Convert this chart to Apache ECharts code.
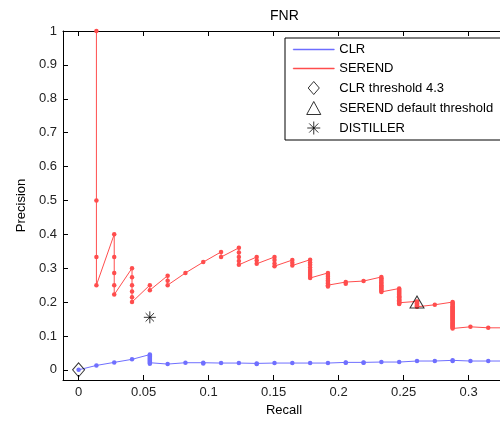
<!DOCTYPE html>
<html>
<head>
<meta charset="utf-8">
<title>FNR</title>
<script src="https://cdn.jsdelivr.net/npm/echarts@6/dist/echarts.min.js"></script>
<style>
  html, body { margin: 0; padding: 0; background: #fff; }
  #chart { width: 500px; height: 421px; }
</style>
</head>
<body>
<div id="chart"></div>
<script>
// recall value of each step (one more true positive per step)
var recallSteps = [0.0137, 0.0274, 0.0411, 0.0548, 0.0685, 0.0822, 0.0959, 0.1096,
    0.1233, 0.1370, 0.1507, 0.1644, 0.1781, 0.1918, 0.2055, 0.2192, 0.2329, 0.2466,
    0.2603, 0.2740, 0.2877, 0.3014, 0.3151, 0.3288];

// SEREND precision values at each recall step (top to bottom)
var serendPrecision = [
    [1.0, 0.5, 0.333, 0.25],
    [0.4, 0.333, 0.286, 0.25, 0.222],
    [0.3, 0.273, 0.25, 0.231, 0.214, 0.2],
    [0.25, 0.235],
    [0.278, 0.263, 0.25],
    [0.286],
    [0.318],
    [0.348, 0.333],
    [0.36, 0.346, 0.333, 0.321, 0.31],
    [0.333, 0.323, 0.313],
    [0.333, 0.324, 0.314, 0.306],
    [0.324, 0.316, 0.308],
    [0.325, 0.317, 0.31, 0.302, 0.295, 0.289, 0.283, 0.277, 0.271],
    [0.286, 0.28, 0.275, 0.269, 0.264, 0.259, 0.255, 0.25, 0.246],
    [0.259, 0.254],
    [0.262],
    [0.274, 0.27, 0.266, 0.262, 0.258, 0.254, 0.25, 0.246, 0.243, 0.239, 0.236, 0.233, 0.23],
    [0.24, 0.237, 0.234, 0.231, 0.228, 0.225, 0.222, 0.219, 0.217, 0.214, 0.212, 0.209,
     0.207, 0.205, 0.202, 0.2, 0.198, 0.196, 0.194],
    [0.202, 0.2, 0.198, 0.196, 0.194, 0.192, 0.19, 0.188, 0.186],
    [0.192],
    [0.2, 0.197, 0.194, 0.191, 0.188, 0.185, 0.182, 0.179, 0.176, 0.173, 0.17, 0.167,
     0.164, 0.161, 0.158, 0.155, 0.152, 0.149, 0.146, 0.143, 0.14, 0.137, 0.134, 0.131,
     0.128, 0.125, 0.122],
    [0.127],
    [0.124],
    [0.124]
];

// CLR starts at recall 0, then follows the same recall steps
var clrStart = [0, 0];
var clrPrecision = [
    [0.013],
    [0.022],
    [0.031],
    [0.045, 0.042, 0.039, 0.036, 0.033, 0.03, 0.027, 0.024, 0.021, 0.018],
    [0.017],
    [0.021],
    [0.021, 0.019],
    [0.02],
    [0.02],
    [0.019, 0.017],
    [0.02],
    [0.02],
    [0.02],
    [0.02],
    [0.022, 0.021],
    [0.022, 0.021],
    [0.023],
    [0.023],
    [0.026],
    [0.026],
    [0.028, 0.026],
    [0.026],
    [0.026],
    [0.026]
];

// single markers
var clrThreshold = [0, 0];
var serendDefault = [0.2603, 0.2];
var distiller = [0.0548, 0.155];

var xTicks = [0, 0.05, 0.1, 0.15, 0.2, 0.25, 0.3];
var yTicks = [0, 0.1, 0.2, 0.3, 0.4, 0.5, 0.6, 0.7, 0.8, 0.9, 1];

function buildPoints(steps, precisions) {
    var pts = [];
    steps.forEach(function (x, i) {
        (precisions[i] || []).forEach(function (p) {
            pts.push([x, p]);
        });
    });
    return pts;
}

var clrPoints = [clrStart].concat(buildPoints(recallSteps, clrPrecision));
var serendPoints = buildPoints(recallSteps, serendPrecision);

var font = 'Liberation Sans, Arial, sans-serif';
var blue = '#6f6fff';
var red = '#ff4d4d';
var asterisk = 'path://M6,0L6,12M0,6L12,6M1.8,1.8L10.2,10.2M10.2,1.8L1.8,10.2';
var lineIcon = 'path://M0,0L40,0L40,1L0,1Z';
var fmt = function (v) { return String(+v.toFixed(2)); };

var myChart = echarts.init(document.getElementById('chart'));

var option = {
    animation: false,
    backgroundColor: '#fff',
    textStyle: { fontFamily: font },
    title: {
        text: 'FNR',
        left: 265,
        top: 4,
        textStyle: { fontSize: 14, fontWeight: 'normal', color: '#000', fontFamily: font }
    },
    grid: {
        left: 63,
        right: -5,
        top: 31,
        bottom: 41,
        containLabel: false,
        outerBoundsMode: 'none'
    },
    legend: {
        orient: 'vertical',
        left: 285,
        top: 38,
        padding: [5, 30, 5, 8],
        itemWidth: 41,
        itemHeight: 13,
        itemGap: 6,
        selectedMode: false,
        backgroundColor: '#fff',
        borderColor: '#000',
        borderWidth: 1,
        borderRadius: 0,
        textStyle: { fontSize: 13, color: '#000', fontFamily: font, lineHeight: 13 },
        data: [
            { name: 'CLR', icon: lineIcon,
              itemStyle: { color: blue, borderColor: blue, borderWidth: 0.5, opacity: 1 } },
            { name: 'SEREND', icon: lineIcon,
              itemStyle: { color: red, borderColor: red, borderWidth: 0.5, opacity: 1 } },
            { name: 'CLR threshold 4.3', icon: 'path://M6,0L12,7L6,14L0,7Z',
              itemStyle: { color: '#fff', borderColor: '#000', borderWidth: 1 } },
            { name: 'SEREND default threshold', icon: 'path://M6.5,0L13,12L0,12Z',
              itemStyle: { color: '#fff', borderColor: '#000', borderWidth: 1 } },
            { name: 'DISTILLER', icon: asterisk,
              itemStyle: { color: 'rgba(0,0,0,0)', borderColor: '#000', borderWidth: 1 } }
        ]
    },
    xAxis: [
        {
            type: 'value',
            position: 'bottom',
            min: -0.012,
            max: 0.328,
            name: 'Recall',
            nameLocation: 'middle',
            nameGap: 23,
            nameTextStyle: { fontSize: 13, color: '#000', fontFamily: font },
            axisLine: { onZero: false, lineStyle: { color: '#000', width: 1 } },
            axisTick: { inside: true, length: 5, customValues: xTicks, lineStyle: { color: '#000' } },
            axisLabel: { customValues: xTicks, formatter: fmt, fontSize: 13, color: '#222', margin: 6, fontFamily: font },
            splitLine: { show: false }
        },
        {
            type: 'value',
            position: 'top',
            min: -0.012,
            max: 0.328,
            axisLine: { onZero: false, lineStyle: { color: '#000', width: 1 } },
            axisTick: { inside: true, length: 5, customValues: xTicks, lineStyle: { color: '#000' } },
            axisLabel: { show: false },
            splitLine: { show: false }
        }
    ],
    yAxis: {
        type: 'value',
        min: -0.03,
        max: 1,
        name: 'Precision',
        nameLocation: 'middle',
        nameGap: 30,
        nameRotate: 90,
        nameTextStyle: { fontSize: 13, color: '#000', fontFamily: font },
        axisLine: { show: true, onZero: false, lineStyle: { color: '#000', width: 1 } },
        axisTick: { show: true, inside: true, length: 5, customValues: yTicks, lineStyle: { color: '#000' } },
        axisLabel: { customValues: yTicks, formatter: fmt, fontSize: 13, color: '#222', margin: 6, fontFamily: font },
        splitLine: { show: false }
    },
    series: [
        {
            name: 'CLR',
            type: 'line',
            data: clrPoints,
            symbol: 'circle',
            symbolSize: 4.5,
            lineStyle: { color: blue, width: 1 },
            itemStyle: { color: blue },
            z: 2
        },
        {
            name: 'SEREND',
            type: 'line',
            data: serendPoints,
            symbol: 'circle',
            symbolSize: 4.5,
            lineStyle: { color: red, width: 1 },
            itemStyle: { color: red },
            z: 2
        },
        {
            name: 'CLR threshold 4.3',
            type: 'scatter',
            data: [clrThreshold],
            symbol: 'diamond',
            symbolSize: [12, 14],
            itemStyle: { color: 'rgba(0,0,0,0)', borderColor: '#000', borderWidth: 1 },
            z: 3
        },
        {
            name: 'SEREND default threshold',
            type: 'scatter',
            data: [serendDefault],
            symbol: 'triangle',
            symbolSize: [14, 12],
            itemStyle: { color: 'rgba(0,0,0,0)', borderColor: '#000', borderWidth: 1 },
            z: 3
        },
        {
            name: 'DISTILLER',
            type: 'scatter',
            data: [distiller],
            symbol: asterisk,
            symbolSize: 12,
            itemStyle: { color: 'rgba(0,0,0,0)', borderColor: '#000', borderWidth: 1 },
            z: 3
        }
    ]
};

myChart.setOption(option);

window.addEventListener('resize', function () {
    myChart.resize();
});
</script>
</body>
</html>
